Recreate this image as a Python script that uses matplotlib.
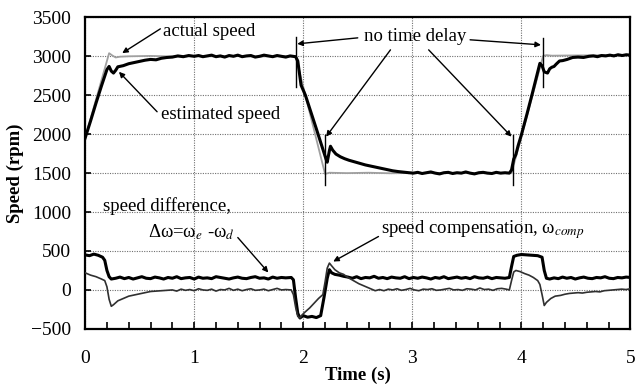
import numpy as np
import matplotlib
matplotlib.use("Agg")
import matplotlib.pyplot as plt
from matplotlib.ticker import MultipleLocator

plt.rcParams['font.family'] = ['Liberation Serif', 'DejaVu Serif']
plt.rcParams['mathtext.fontset'] = 'stix'

# actual rotor speed (rpm)
actual_t = [0, 0.22, 0.25, 0.28, 0.32, 0.40, 0.6, 0.8, 1.0, 1.2, 1.4, 1.6, 1.8, 1.93,
            2.20, 2.24, 2.4, 2.6, 2.8, 3.0, 3.2, 3.4, 3.6, 3.8, 3.91,
            4.20, 4.23, 4.28, 4.4, 4.6, 4.8, 5.0]
actual_v = [1950, 3040, 3010, 2985, 2995, 3000, 3005, 2998, 3002, 3000, 3004, 2998, 3002, 3000,
            1490, 1505, 1500, 1505, 1498, 1502, 1500, 1504, 1498, 1502, 1500,
            3005, 3015, 3008, 3010, 3012, 3015, 3018]

# estimated speed (rpm)
est_t1 = [0, .05, .10, .15, .20, .22, .24, .26, .28, .30, .35, .40, .45, .50, .55, .60,
          .65, .70, .75, .80, .85, .90, .95]
est_v1 = [1950, 2170, 2400, 2620, 2830, 2870, 2810, 2785, 2820, 2865, 2880, 2905, 2920,
          2935, 2950, 2960, 2955, 2975, 2985, 2990, 3005, 2995, 3010]
est_v2 = [3000, 3010, 2995, 3005, 3015, 2995, 3005, 2990, 3010, 3000, 3015, 2995, 3005,
          3010, 2990, 3000, 3015, 3005, 2995, 3010, 3000, 2990, 3005]
est_t3 = [1.93, 1.95, 1.98, 2.02, 2.07, 2.12, 2.17, 2.21, 2.22, 2.24, 2.25, 2.27, 2.30,
          2.34, 2.38, 2.42, 2.47, 2.52, 2.57, 2.62, 2.67, 2.72, 2.77, 2.82, 2.87, 2.92, 2.97]
est_v3 = [2995, 2940, 2630, 2500, 2285, 2070, 1850, 1675, 1640, 1790, 1845, 1795, 1745,
          1710, 1685, 1665, 1645, 1625, 1605, 1590, 1575, 1560, 1545, 1530, 1520, 1512, 1505]
est_v4 = [1500, 1510, 1495, 1505, 1515, 1500, 1490, 1505, 1510, 1495, 1505, 1500, 1515,
          1500, 1490, 1505, 1510, 1500, 1495, 1510, 1500, 1505, 1500]
est_t5 = [3.91, 3.93, 3.95, 3.97, 4.00, 4.05, 4.10, 4.15, 4.17, 4.19, 4.21, 4.24, 4.26,
          4.28, 4.30, 4.32, 4.35, 4.38, 4.42, 4.47, 4.52, 4.57, 4.62]
est_v5 = [1540, 1680, 1740, 1850, 1990, 2250, 2520, 2800, 2910, 2880, 2800, 2785, 2840,
          2860, 2870, 2900, 2940, 2945, 2960, 2985, 2990, 2985, 3000]
est_v6 = [3005, 2995, 3010, 3005, 3015, 3005, 3020, 3010, 3020, 3015]

# speed difference dw = we - wd (rpm)
dw_t1 = [0, .04, .08, .12, .16, .18, .20, .22, .24]
dw_v1 = [450, 440, 460, 445, 420, 380, 250, 170, 140]
dw_v2 = [150, 165, 145, 160, 140, 155, 170, 150, 145, 165,
         155, 140, 160, 150, 170, 145, 155, 160, 140, 165,
         150, 155, 145, 170, 160, 150, 140, 155, 165, 150,
         145, 160, 170, 150, 155, 140, 165, 150, 160, 155]
dw_t3 = [1.89, 1.91, 1.93, 1.95, 1.97, 2.00, 2.04, 2.08, 2.12, 2.16, 2.19, 2.22, 2.24,
         2.26, 2.29, 2.33, 2.37]
dw_v3 = [160, 130, -100, -300, -360, -330, -350, -340, -355, -330, -100, 150, 260,
         220, 200, 190, 175]
dw_v4 = [165, 150, 170, 145, 160, 155, 175, 150, 160, 145,
         165, 155, 150, 170, 145, 160, 150, 165, 155, 140,
         160, 150, 170, 145, 155, 165, 150, 160, 145, 170,
         155, 150, 165, 145, 160, 155, 150]
dw_t5 = [3.89, 3.91, 3.93, 3.96, 4.00, 4.05, 4.10, 4.15, 4.19, 4.21, 4.23, 4.26]
dw_v5 = [160, 300, 430, 445, 455, 450, 445, 440, 420, 250, 150, 140]
dw_v6 = [155, 145, 165, 150, 160, 140, 155, 165, 150, 145,
         160, 155, 170, 150, 145, 160, 155, 165, 160]

# speed compensation w_comp (rpm)
wc_t1 = [0, .05, .10, .15, .18, .20, .22, .24, .26, .30, .35, .40, .50, .60, .70]
wc_v1 = [220, 190, 170, 140, 120, 40, -120, -210, -190, -140, -110, -80, -50, -20, -10]
wc_v2 = [0, -15, 10, -5, 5, -10, 15, 0, -5, 10, -15, 5, 0, 20, -5,
         10, -10, 5, 15, -5, 0, 10, -10, 5, 20, 0, 5]
wc_t3 = [1.89, 1.91, 1.93, 1.95, 1.97, 1.99, 2.02, 2.06, 2.10, 2.14, 2.18, 2.20, 2.22,
         2.24, 2.26, 2.29, 2.33, 2.37, 2.41, 2.46, 2.51, 2.56, 2.61, 2.66]
wc_v3 = [0, -60, -220, -340, -360, -320, -280, -230, -170, -110, -60, 100, 280,
         345, 310, 260, 220, 200, 160, 120, 80, 50, 20, -10]
wc_v4 = [5, -10, 10, 0, 15, -5, 5, 20, 0, -10, 10, 5, 15, -5, 0,
         10, 20, 0, 5, -5, 15, 10, 0, 25, 5, 10, -5, 15, 20, 10]
wc_t5 = [3.89, 3.91, 3.93, 3.95, 3.99, 4.03, 4.07, 4.11, 4.15, 4.17, 4.19, 4.21, 4.23,
         4.27, 4.31, 4.36, 4.40]
wc_v5 = [0, 120, 230, 250, 235, 210, 190, 160, 120, 70, -60, -200, -160,
         -110, -80, -70, -55]
wc_v6 = [-45, -40, -35, -40, -30, -25, -20, -25, -10, -5, 0, 5, 10, 5, 15]

est_t = np.r_[est_t1, np.linspace(1.00, 1.88, 23), est_t3, np.linspace(3.01, 3.89, 23),
              est_t5, np.linspace(4.66, 5.0, 10)]
est_v = np.r_[est_v1, est_v2, est_v3, est_v4, est_v5, est_v6]
dw_t = np.r_[dw_t1, np.linspace(0.28, 1.84, 40), dw_t3, np.linspace(2.41, 3.85, 37),
             dw_t5, np.linspace(4.30, 5.0, 19)]
dw_v = np.r_[dw_v1, dw_v2, dw_v3, dw_v4, dw_v5, dw_v6]
wc_t = np.r_[wc_t1, np.linspace(0.80, 1.84, 27), wc_t3, np.linspace(2.70, 3.86, 30),
             wc_t5, np.linspace(4.44, 5.0, 15)]
wc_v = np.r_[wc_v1, wc_v2, wc_v3, wc_v4, wc_v5, wc_v6]

fig = plt.figure(figsize=(6.4, 3.86), dpi=100)
ax = fig.add_axes([0.133, 0.148, 0.852, 0.807])

ax.plot(actual_t, actual_v, color='#a0a0a0', lw=1.3, zorder=3)
ax.plot(est_t, est_v, color='black', lw=2.2, zorder=4)
ax.plot(wc_t, wc_v, color='#303030', lw=1.2, zorder=4)
ax.plot(dw_t, dw_v, color='black', lw=2.2, zorder=3)

ax.set_xlim(0, 5)
ax.set_ylim(-500, 3500)
ax.xaxis.set_major_locator(MultipleLocator(1))
ax.xaxis.set_minor_locator(MultipleLocator(0.2))
ax.yaxis.set_major_locator(MultipleLocator(500))
ax.grid(True, which='major', color='#707070', lw=0.8, ls=(0, (1, 1.2)))
ax.tick_params(axis='x', which='both', direction='in', length=5, width=1.2,
               labelsize=14, pad=15)
ax.tick_params(axis='y', which='both', direction='in', length=4, width=1.2,
               labelsize=14, pad=10)
for s in ax.spines.values():
    s.set_linewidth(1.6)

ax.set_xlabel('Time (s)', fontsize=13.5, fontweight='bold', labelpad=0)
ax.set_ylabel('Speed (rpm)', fontsize=13.5, fontweight='bold', labelpad=5)

arrow = dict(arrowstyle='-|>', color='black', lw=1.0, mutation_scale=8,
             shrinkA=0, shrinkB=0)
fs = 13.5

ax.text(0.71, 3314, 'actual speed', fontsize=fs, va='center', ha='left')
ax.annotate('', xy=(0.34, 3041), xytext=(0.69, 3353), arrowprops=arrow)
ax.text(0.70, 2250, 'estimated speed', fontsize=fs, va='center', ha='left')
ax.annotate('', xy=(0.31, 2801), xytext=(0.66, 2288), arrowprops=arrow)

# no time delay markers
ax.text(3.03, 3250, 'no time delay', fontsize=fs, ha='center', va='center')
for x0, y0, y1 in [(1.93, 2610, 3250), (4.20, 2600, 3240),
                   (2.20, 1350, 1990), (3.92, 1350, 1990)]:
    ax.plot([x0, x0], [y0, y1], color='black', lw=1.0, zorder=5)
ax.annotate('', xy=(1.945, 3160), xytext=(2.50, 3237), arrowprops=arrow)
ax.annotate('', xy=(4.18, 3147), xytext=(3.53, 3212), arrowprops=arrow)
ax.annotate('', xy=(2.21, 1968), xytext=(2.80, 3083), arrowprops=arrow)
ax.annotate('', xy=(3.91, 1968), xytext=(3.15, 3083), arrowprops=arrow)

ax.text(0.165, 1071, 'speed difference,', fontsize=fs, ha='left', va='center')
ax.text(0.58, 737, r'Δω=ω$_{e}$ -ω$_{d}$', fontsize=fs, ha='left', va='center')
ax.annotate('', xy=(1.68, 224), xytext=(1.40, 673), arrowprops=arrow)

ax.text(2.71, 776, r'speed compensation, ω$_{comp}$', fontsize=fs, ha='left', va='center')
ax.annotate('', xy=(2.275, 365), xytext=(2.69, 686), arrowprops=arrow)

fig.savefig('out.png', dpi=100)
